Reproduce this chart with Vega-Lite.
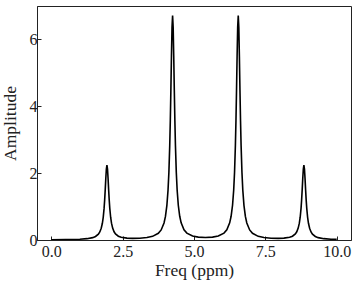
{
  "$schema": "https://vega.github.io/schema/vega-lite/v6.json",
  "width": 314,
  "height": 234,
  "autosize": {"type": "none"},
  "padding": {"left": 37, "top": 6, "right": 6, "bottom": 46},
  "background": "white",
  "config": {
    "view": {"stroke": "#222", "strokeWidth": 1},
    "font": "Liberation Serif",
    "axis": {
      "grid": false,
      "domainColor": "#222",
      "tickColor": "#222",
      "tickSize": -4,
      "labelFont": "Liberation Serif",
      "labelFontSize": 16,
      "labelColor": "#222",
      "titleFont": "Liberation Serif",
      "titleFontSize": 17.5,
      "titleFontWeight": "normal",
      "titleColor": "#222"
    }
  },
  "data": {
    "values": [
      {"freq": 0.0, "amp": 0.0082},
      {"freq": 0.5, "amp": 0.0126},
      {"freq": 1.0, "amp": 0.0242},
      {"freq": 1.25, "amp": 0.0398},
      {"freq": 1.45, "amp": 0.071},
      {"freq": 1.55, "amp": 0.1052},
      {"freq": 1.65, "amp": 0.1755},
      {"freq": 1.7, "amp": 0.2408},
      {"freq": 1.75, "amp": 0.351},
      {"freq": 1.79, "amp": 0.501},
      {"freq": 1.82, "amp": 0.679},
      {"freq": 1.85, "amp": 0.946},
      {"freq": 1.87, "amp": 1.194},
      {"freq": 1.89, "amp": 1.499},
      {"freq": 1.91, "amp": 1.837},
      {"freq": 1.93, "amp": 2.124},
      {"freq": 1.95, "amp": 2.242},
      {"freq": 1.97, "amp": 2.125},
      {"freq": 1.99, "amp": 1.838},
      {"freq": 2.01, "amp": 1.5},
      {"freq": 2.03, "amp": 1.195},
      {"freq": 2.05, "amp": 0.948},
      {"freq": 2.08, "amp": 0.681},
      {"freq": 2.11, "amp": 0.504},
      {"freq": 2.15, "amp": 0.355},
      {"freq": 2.2, "amp": 0.245},
      {"freq": 2.25, "amp": 0.181},
      {"freq": 2.35, "amp": 0.1128},
      {"freq": 2.45, "amp": 0.0809},
      {"freq": 2.65, "amp": 0.0549},
      {"freq": 2.85, "amp": 0.0483},
      {"freq": 3.1, "amp": 0.053},
      {"freq": 3.35, "amp": 0.0727},
      {"freq": 3.55, "amp": 0.1096},
      {"freq": 3.75, "amp": 0.1997},
      {"freq": 3.85, "amp": 0.3007},
      {"freq": 3.95, "amp": 0.5098},
      {"freq": 4.0, "amp": 0.706},
      {"freq": 4.05, "amp": 1.037},
      {"freq": 4.09, "amp": 1.487},
      {"freq": 4.12, "amp": 2.019},
      {"freq": 4.15, "amp": 2.823},
      {"freq": 4.17, "amp": 3.566},
      {"freq": 4.19, "amp": 4.485},
      {"freq": 4.21, "amp": 5.498},
      {"freq": 4.23, "amp": 6.361},
      {"freq": 4.25, "amp": 6.713},
      {"freq": 4.27, "amp": 6.361},
      {"freq": 4.29, "amp": 5.498},
      {"freq": 4.31, "amp": 4.486},
      {"freq": 4.33, "amp": 3.567},
      {"freq": 4.35, "amp": 2.824},
      {"freq": 4.38, "amp": 2.021},
      {"freq": 4.41, "amp": 1.49},
      {"freq": 4.45, "amp": 1.04},
      {"freq": 4.5, "amp": 0.71},
      {"freq": 4.55, "amp": 0.513},
      {"freq": 4.65, "amp": 0.3055},
      {"freq": 4.75, "amp": 0.2059},
      {"freq": 4.95, "amp": 0.1191},
      {"freq": 5.15, "amp": 0.0866},
      {"freq": 5.4, "amp": 0.0755},
      {"freq": 5.65, "amp": 0.0866},
      {"freq": 5.85, "amp": 0.1191},
      {"freq": 6.05, "amp": 0.2059},
      {"freq": 6.15, "amp": 0.3055},
      {"freq": 6.25, "amp": 0.513},
      {"freq": 6.3, "amp": 0.71},
      {"freq": 6.35, "amp": 1.04},
      {"freq": 6.39, "amp": 1.49},
      {"freq": 6.42, "amp": 2.021},
      {"freq": 6.45, "amp": 2.824},
      {"freq": 6.47, "amp": 3.567},
      {"freq": 6.49, "amp": 4.486},
      {"freq": 6.51, "amp": 5.498},
      {"freq": 6.53, "amp": 6.361},
      {"freq": 6.55, "amp": 6.713},
      {"freq": 6.57, "amp": 6.361},
      {"freq": 6.59, "amp": 5.498},
      {"freq": 6.61, "amp": 4.485},
      {"freq": 6.63, "amp": 3.566},
      {"freq": 6.65, "amp": 2.823},
      {"freq": 6.68, "amp": 2.019},
      {"freq": 6.71, "amp": 1.487},
      {"freq": 6.75, "amp": 1.037},
      {"freq": 6.8, "amp": 0.706},
      {"freq": 6.85, "amp": 0.5098},
      {"freq": 6.95, "amp": 0.3007},
      {"freq": 7.05, "amp": 0.1997},
      {"freq": 7.25, "amp": 0.1096},
      {"freq": 7.45, "amp": 0.0727},
      {"freq": 7.7, "amp": 0.053},
      {"freq": 7.95, "amp": 0.0483},
      {"freq": 8.15, "amp": 0.0549},
      {"freq": 8.35, "amp": 0.0809},
      {"freq": 8.45, "amp": 0.1128},
      {"freq": 8.55, "amp": 0.181},
      {"freq": 8.6, "amp": 0.245},
      {"freq": 8.65, "amp": 0.355},
      {"freq": 8.69, "amp": 0.504},
      {"freq": 8.72, "amp": 0.681},
      {"freq": 8.75, "amp": 0.948},
      {"freq": 8.77, "amp": 1.195},
      {"freq": 8.79, "amp": 1.5},
      {"freq": 8.81, "amp": 1.838},
      {"freq": 8.83, "amp": 2.125},
      {"freq": 8.85, "amp": 2.242},
      {"freq": 8.87, "amp": 2.124},
      {"freq": 8.89, "amp": 1.837},
      {"freq": 8.91, "amp": 1.499},
      {"freq": 8.93, "amp": 1.194},
      {"freq": 8.95, "amp": 0.946},
      {"freq": 8.98, "amp": 0.679},
      {"freq": 9.01, "amp": 0.501},
      {"freq": 9.05, "amp": 0.351},
      {"freq": 9.1, "amp": 0.2408},
      {"freq": 9.15, "amp": 0.1755},
      {"freq": 9.25, "amp": 0.1052},
      {"freq": 9.35, "amp": 0.071},
      {"freq": 9.55, "amp": 0.0398},
      {"freq": 9.8, "amp": 0.0242},
      {"freq": 10.0, "amp": 0.0179}
    ]
  },
  "mark": {"type": "line", "color": "black", "strokeWidth": 1.6, "clip": true},
  "encoding": {
    "x": {
      "field": "freq",
      "type": "quantitative",
      "title": "Freq (ppm)",
      "scale": {"domain": [-0.5, 10.5], "nice": false, "zero": false},
      "axis": {"values": [0, 2.5, 5, 7.5, 10], "format": ".1f", "labelPadding": 7, "titlePadding": 2, "labelFont": "Liberation Serif", "labelFontSize": 16}
    },
    "y": {
      "field": "amp",
      "type": "quantitative",
      "title": "Amplitude",
      "scale": {"domain": [0, 7.0], "nice": false, "zero": false},
      "axis": {"values": [0, 2, 4, 6], "format": "d", "labelPadding": 4, "titlePadding": 10, "labelFont": "Liberation Serif", "labelFontSize": 16}
    }
  }
}
